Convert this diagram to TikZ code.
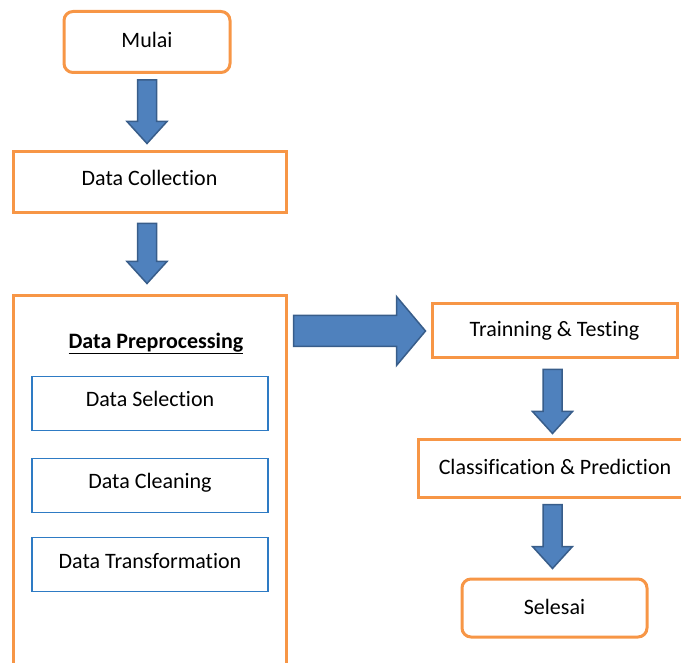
\documentclass[tikz,border=0pt]{standalone}
\usepackage{fontspec}
\setmainfont{Carlito}[RawFeature=-liga]
\usetikzlibrary{calc}
\definecolor{boxorange}{HTML}{F79646}
\definecolor{subblue}{HTML}{2E7BC4}
\definecolor{arrfill}{HTML}{4F81BD}
\definecolor{arrline}{HTML}{385D8A}
\tikzset{
  txt/.style={font=\fontsize{22}{26}\selectfont, text height=14pt, text depth=7pt},
  lowtxt/.style={text depth=2pt},
  stepbox/.style={draw=boxorange, line width=3pt, fill=white, txt, inner sep=0pt},
  roundbox/.style={stepbox, rounded corners=9pt},
  subbox/.style={draw=subblue, line width=1.4pt, fill=white, txt, inner sep=0pt,
                 minimum width=236pt, minimum height=54pt},
  blk/.style={fill=arrfill, draw=arrline, line width=1.5pt, line join=miter},
}
% vertical block arrow: start point, tip point
\newcommand\vblock[2]{%
  \draw[blk] let \p1=(#1), \p2=(#2) in
    (\x1-9.5pt,\y1) -- (\x1-9.5pt,\y2+22pt) -- (\x1-20pt,\y2+22pt) -- (\x1,\y2)
    -- (\x1+20pt,\y2+22pt) -- (\x1+9.5pt,\y2+22pt) -- (\x1+9.5pt,\y1) -- cycle;}
\begin{document}
\begin{tikzpicture}[x=1pt, y=-1pt]
\useasboundingbox (0,0) rectangle (681,663);

% left column
\node[roundbox, lowtxt, minimum width=166pt, minimum height=61pt] (mulai) at (147,42) {Mulai};
\node[stepbox, text depth=8pt, minimum width=273pt, minimum height=61pt] (collect) at (149.5,182.5) {Data Collection};
\node[stepbox, minimum width=273pt, minimum height=390pt] (prep) at (149.5,491) {};
\node[txt, font=\fontsize{22}{26}\selectfont\bfseries] (preptitle) at (156,345) {\underline{Data Preprocessing}};
\node[subbox, text depth=8pt] (select) at (150,403.5) {Data Selection};
\node[subbox] (clean) at (150,485.5) {Data Cleaning};
\node[subbox] (transf) at (150,564.5) {Data Transformation};

% right column
\node[stepbox, lowtxt, minimum width=245pt, minimum height=54pt] (train) at (554.5,331) {Trainning \& Testing};
\node[stepbox, minimum width=272pt, minimum height=57pt] (classif) at (554,468.5) {};
\node[txt, lowtxt] (classtext) at (555,468.5) {Classification \& Prediction};
\node[roundbox, lowtxt, minimum width=185pt, minimum height=58pt] (selesai) at (554.5,608) {Selesai};

% block arrows
\vblock{$(mulai.south)+(0,6)$}{$(mulai.south|-collect.north)+(0,-7)$}
\vblock{$(mulai.south|-collect.south)+(0,9)$}{$(mulai.south|-prep.north)+(0,-11)$}
\draw[blk] let \p1=($(prep.east|-train.center)+(6,0)$), \p2=($(train.west)+(-5,0)$) in
  (\x1,\y1+15.5pt) -- (\x2-29pt,\y1+15.5pt) -- (\x2-29pt,\y1+34.5pt) -- (\x2,\y2)
  -- (\x2-29pt,\y1-34.5pt) -- (\x2-29pt,\y1-15.5pt) -- (\x1,\y1-15.5pt) -- cycle;
\vblock{$(train.south)+(-2,10)$}{$(train.south|-classif.north)+(-2,-5)$}
\vblock{$(train.south|-classif.south)+(-2,6)$}{$(train.south|-selesai.north)+(-2,-9)$}
\end{tikzpicture}
\end{document}
